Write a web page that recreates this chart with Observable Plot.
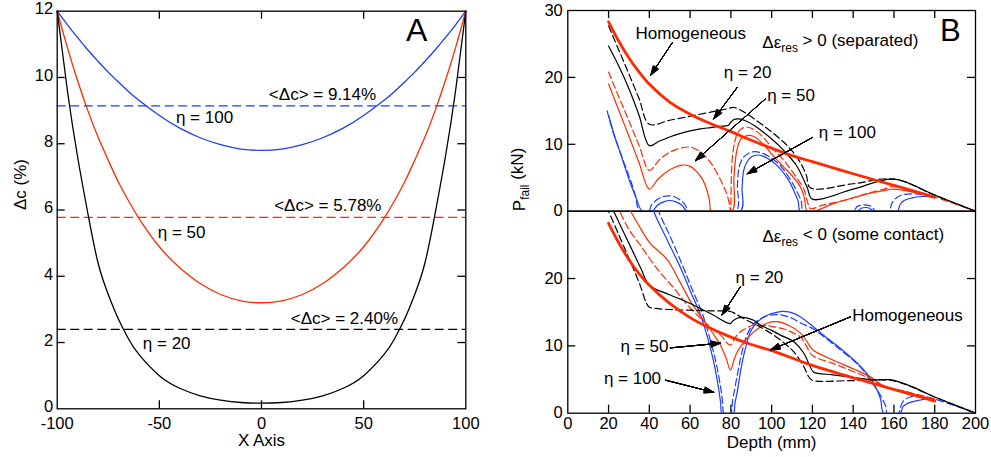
<!DOCTYPE html>
<html><head><meta charset="utf-8">
<script src="https://cdn.jsdelivr.net/npm/d3@7"></script>
<script src="https://cdn.jsdelivr.net/npm/@observablehq/plot@0.6"></script>
<style>
body{margin:0;background:#fff;}
#fig{position:relative;width:991px;height:457px;background:#fff;}
#fig svg{position:absolute;left:0;top:0;}
</style></head>
<body><div id="fig"></div>
<script>
// ---------------- Panel A data ----------------
const aX      = [-100,-95,-90,-85,-80,-75,-70,-65,-60,-50,-40,-30,-20,-10,0,10,20,30,40,50,60,65,70,75,80,85,90,95,100];
const aEta20  = [12,9.6,7.6,5.9,4.4,3.45,2.7,2.1,1.64,1.0,0.62,0.39,0.26,0.19,0.17,0.19,0.26,0.39,0.62,1.0,1.64,2.1,2.7,3.45,4.4,5.9,7.6,9.6,12];
const aEta50  = [12,10.9,9.9,9.0,8.2,7.5,6.84,6.27,5.75,4.89,4.26,3.78,3.45,3.26,3.2,3.26,3.45,3.78,4.26,4.89,5.75,6.27,6.84,7.5,8.2,9.0,9.9,10.9,12];
const aEta100 = [12,11.59,11.2,10.83,10.49,10.16,9.86,9.57,9.31,8.85,8.47,8.18,7.97,7.84,7.8,7.84,7.97,8.18,8.47,8.85,9.31,9.57,9.86,10.16,10.49,10.83,11.2,11.59,12];
const aMeans  = [9.14, 5.78, 2.40];
const aMeanColors = ["blue","red","black"];
const xTicksA = [-100,-50,0,50,100];
const yTicksA = [0,2,4,6,8,10,12];
const aLabels = [
  {x:3.6,  y:9.47, t:"<Δc> = 9.14%"},
  {x:-41.9,y:8.79, t:"η = 100"},
  {x:6.2,  y:6.14, t:"<Δc> = 5.78%"},
  {x:-50.8,y:5.32, t:"η = 50"},
  {x:14.3, y:2.71, t:"<Δc> = 2.40%"},
  {x:-58.1,y:1.97, t:"η = 20"}
];

// ---------------- Panel B data (top: Δε_res > 0) ----------------
const homogTop = [[20,28.3],[25,25.4],[30,22.9],[35,20.8],[40,19.0],[50,16.3],[60,14.5],[70,13.1],[80,11.9],[90,10.6],[100,9.4],[110,8.3],[120,7.4],[140,5.6],[160,3.85],[180,2.1]];
const eta20SolidTop = [[20,24.7],[25,21.7],[30,18.3],[35,14.3],[40,9.8],[45,10.5],[50,11.1],[55,11.6],[60,12.0],[65,12.3],[70,12.5],[75,12.7],[78.5,12.8],[80,13.3],[81.5,13.7],[84,13.8],[88,13.4],[92,12.7],[96,11.8],[100,10.8],[104,9.7],[108,8.4],[112,6.9],[115,5.2],[117.5,3.5],[120,1.8],[140,3.3],[160,4.8],[180,2.4],[200,0]];
const eta20DashTop = [[20,27.7],[25,24.1],[30,20.5],[35,16.8],[40,13.0],[50,13.6],[60,14.2],[70,14.8],[78,15.3],[81.5,15.5],[86,14.9],[91,13.9],[96,12.8],[101,11.6],[106,10.3],[110,9.0],[114,7.3],[117,5.4],[119,3.5],[140,4.1],[160,4.8],[180,2.4],[200,0]];
const eta50SolidTop = [[20,19.0],[25,15.1],[30,11.2],[35,7.2],[40,3.3],[44,4.7],[48,5.8],[52,6.5],[56,6.9],[60,6.7],[63,6.0],[66,4.8],[68,3.4],[69.5,1.6],[70.5,0],[80.5,0],[81.5,5.0],[83,9.2],[85,10.8],[88,11.3],[91,11.2],[96,10.0],[101,8.2],[106,6.6],[110,5.3],[114,3.7],[116,2.1],[117.4,0],[121,0],[130,1.1],[140,2.0],[150,2.8],[157,3.2],[160,3.3],[170,2.8],[180,2.1]];
const eta50DashTop = [[20,20.8],[25,17.1],[30,13.5],[35,9.8],[40,6.1],[45,7.7],[50,8.8],[55,9.4],[58.6,9.6],[62,9.4],[66,8.6],[70,7.3],[73,5.8],[76,4.0],[78.2,2.4],[79.5,0.6],[79.8,0],[80.6,7.6],[82,10.5],[83.5,11.8],[86.3,12.5],[90,12.4],[95,11.3],[101,9.2],[106,7.6],[110,6.0],[113,4.7],[115.8,3.3],[117.5,1.5],[119,0.4],[125,0.9],[135.4,1.6],[145,2.5],[155,3.3],[160,3.7],[170,2.9],[180,2.1],[200,0]];
const eta100SolidTop = [[20,14.3],[23,11.2],[25.9,8.6],[28,6.6],[30.8,4.1],[33.5,2.0],[36.5,0],[41.4,0],[44,0.9],[47,1.4],[50,1.6],[53,1.4],[56,0.9],[58.6,0],[84.7,0],[85.5,3.5],[86.3,6.1],[88,7.4],[90,8.1],[93,8.4],[96,8.2],[100,7.5],[104,6.4],[108,4.8],[111,3.0],[113,1.5],[114.2,0],[142,0],[144,0.45],[146,0.55],[148,0.45],[150,0],[161.6,0],[163,1.0],[165,1.6],[169,2.0],[173,2.2],[176,2.2],[180,2.0]];
const eta100DashTop = [[19.3,15.0],[22,12.0],[25.1,9.3],[28,6.9],[30.8,4.6],[33,2.5],[35.3,0],[39.7,0],[41,0.9],[44,1.8],[47,2.2],[49.5,2.3],[52,2.2],[55,1.7],[57.5,1.0],[59.4,0],[82.5,0],[83.2,4.0],[84,6.5],[86,8.0],[89,8.7],[92,8.9],[96,8.6],[100,7.9],[104,6.9],[108,5.3],[112,3.2],[114.5,1.5],[115.8,0],[140,0],[142,0.7],[145.5,0.95],[149,0.7],[151,0],[157.5,0],[159,1.2],[161.6,2.1],[165,2.5],[169.7,2.6],[175,2.4],[180,2.1]];

// ---------------- Panel B data (bottom: Δε_res < 0) ----------------
const homogBot = [[20,28.2],[25,25.3],[30,22.8],[35,20.7],[40,19.0],[50,16.3],[60,14.2],[70,12.6],[80,11.3],[90,10.2],[100,9.3],[110,8.2],[120,7.1],[135,5.7],[150,4.4],[165,3.1],[180,1.8]];
const eta20SolidBot = [[20,31.6],[22.5,30.0],[27.5,26.8],[32.4,23.7],[36,21.4],[40,19.0],[50,17.6],[60,16.3],[70,14.8],[79.8,13.3],[80.6,13.6],[83.1,14.1],[87,14.2],[91.2,13.8],[94.4,13.1],[100,12.3],[104.3,11.6],[110.9,10.6],[115.8,8.9],[118.9,6.9],[120.6,6.1],[130,5.7],[140,5.3],[148,5.0],[155,4.95],[158,5.0],[162,4.7],[170,3.8],[180,2.4],[190,1.2],[200,0]];
const eta20DashBot = [[19,30.7],[20,30.0],[25,26.5],[30,23.0],[35,19.4],[39.7,15.8],[42,15.6],[50,15.4],[60,15.3],[70,15.2],[79.8,15.1],[82,14.8],[86,14.1],[91.2,13.3],[94.4,12.8],[100,11.8],[105,10.7],[110.9,9.1],[115.8,6.9],[118,5.5],[119.9,4.9],[140,4.85],[159.9,4.8],[180,2.4],[200,0]];
const eta50SolidBot = [[28,31.4],[30.8,30.0],[35,27.8],[40.2,25.3],[44,24.2],[48.8,22.8],[55,19.5],[60.2,16.6],[64,14.9],[68.4,13.1],[72,11.5],[74.9,10.1],[77.5,8.3],[79.8,6.4],[81.5,7.9],[83.1,9.1],[85.5,10.2],[88,11.1],[91,12.0],[94.5,12.8],[98,13.4],[102.7,13.6],[108,13.1],[114.2,11.9],[117,10.8],[118.9,9.9],[120.6,9.3],[130,7.9],[140,6.6],[148.5,5.4],[152,4.6],[156,3.9],[159.9,3.5],[165,3.2],[170,2.8],[175,2.4],[180,2.1]];
const eta50DashBot = [[24,31.2],[25.5,30.0],[30,27.3],[35,25.2],[38.9,23.5],[45,21.0],[52,18.6],[58,16.3],[65.1,14.1],[70,12.8],[74.9,11.6],[79.8,10.1],[82,11.2],[84.7,12.1],[88,12.7],[91.2,13.1],[94.4,13.1],[100,12.9],[106,12.5],[110,12.0],[114.2,11.3],[117,10.0],[119.9,8.6],[130,7.4],[140,6.2],[148.5,5.1],[153,4.3],[157,3.8],[159.9,3.6],[165,3.3],[170,2.9],[175,2.5],[180,2.1]];
const eta100SolidBot = [[41,32.0],[42.2,30.0],[48,26.2],[55.3,21.6],[60,18.2],[65.1,14.6],[68.5,11.3],[71.6,7.6],[73.8,4.0],[75,1.5],[75.7,0],[81.2,0],[82,1.5],[83.1,3.1],[84.5,5.8],[86.3,8.6],[88,10.6],[89.6,12.1],[92.5,13.4],[96.2,14.3],[100,14.8],[104.3,15.1],[109,15.0],[114.2,14.3],[120.6,12.8],[125,11.7],[130.5,10.4],[135,9.3],[140.3,7.9],[143.5,7.0],[146.7,5.9],[149.5,4.7],[151.8,3.4],[153.5,2.0],[155,0],[163,0],[164.5,1.0],[168,1.6],[172,1.9],[176.3,2.1],[180,2.0]];
const eta100DashBot = [[43.5,32.0],[44.6,30.0],[50,26.4],[56.5,21.8],[61,18.4],[66,14.8],[69.5,11.3],[72.8,7.4],[75,3.8],[76,1.5],[76.6,0],[79.9,0],[80.8,1.8],[82,3.8],[84,7.0],[86,9.8],[88,11.7],[91,13.2],[95,14.1],[100,14.6],[104.3,14.6],[110,14.1],[114.2,13.4],[120.6,12.5],[125,11.5],[130.5,10.2],[135,9.1],[140.3,7.8],[144,6.7],[147,5.5],[150,4.2],[152.5,3.1],[154.5,2.0],[156,1.0],[156.7,0],[162.1,0],[163.3,1.0],[164.8,1.9],[168,2.4],[171.4,2.6],[176,2.4],[180,2.1],[190,1.1],[200,0]];

const xTicksB = [0,20,40,60,80,100,120,140,160,180,200];
const yTicksBTop = [0,10,20,30];
const yTicksBBot = [0,10,20];

const bTopLabels = [
  {x:33.2, y:26.6, t:"Homogeneous"},
  {x:95.4, y:25.2, t:"Δε_{res} > 0 (separated)"},
  {x:76.5, y:20.7, t:"η = 20"},
  {x:97.8, y:17.3, t:"η = 50"},
  {x:123.1,y:11.8, t:"η = 100"}
];
const bTopArrows = [
  {x1:51.3, y1:25.2, x2:40.6, y2:20.3},
  {x1:83.1, y1:18.5, x2:71.6, y2:13.8},
  {x1:97.0, y1:16.8, x2:62.6, y2:7.55},
  {x1:119.9,y1:11.0, x2:88.0, y2:5.6}
];
const bBotLabels = [
  {x:95.5, y:26.2, t:"Δε_{res} < 0 (some contact)"},
  {x:82.3, y:20.2, t:"η = 20"},
  {x:25.9, y:9.9,  t:"η = 50"},
  {x:17.7, y:5.2,  t:"η = 100"},
  {x:139.5,y:14.5, t:"Homogeneous"}
];
const bBotArrows = [
  {x1:84.7, y1:18.8, x2:75.7, y2:14.6},
  {x1:50.3, y1:9.7,  x2:74.9, y2:10.4},
  {x1:48.0, y1:4.9,  x2:71.6, y2:3.1},
  {x1:138.6,y1:14.3, x2:99.4, y2:9.4}
];

// ---------------- styling / layout ----------------
const W = 991, H = 457;
const COLORS = {black:"#000000", red:"#ff2a00", blue:"#1a3cff"};
const FONT = "'Liberation Sans', Arial, Helvetica, sans-serif";
const STYLE = `background:transparent;overflow:visible;font-family:${FONT};font-size:17px;color:#000;`;
const TICKFONT = 16.5;
const boxA = {left:56.7, right:465.3, top:10.7, bottom:408.3};
const boxBT = {left:567.3, right:975, top:10, bottom:210.7};
const boxBB = {left:567.3, right:975, top:210.7, bottom:412.7};
const TICK = 8, AXW = 1.3;

function inner(t){ return t.slice(1, -1); }
function tickMarks(box, xT, yT, sides){
  const fw = box.right - box.left, fh = box.bottom - box.top, m = [];
  const o = {stroke:"black", strokeWidth:AXW};
  if (sides.includes("b")) m.push(Plot.tickX(xT, {x:d=>d, insetTop: fh - TICK, ...o}));
  if (sides.includes("t")) m.push(Plot.tickX(xT, {x:d=>d, insetBottom: fh - TICK, ...o}));
  if (sides.includes("l")) m.push(Plot.tickY(yT, {y:d=>d, insetRight: fw - TICK, ...o}));
  if (sides.includes("r")) m.push(Plot.tickY(yT, {y:d=>d, insetLeft: fw - TICK, ...o}));
  return m;
}
function curveMark(data, color, dashed, width){
  return Plot.line(data, {x:d=>d[0], y:d=>d[1], stroke:COLORS[color], strokeWidth: width || 1.2,
    strokeDasharray: dashed ? "7,3.5" : null, curve:"catmull-rom", clip:true});
}
const HEAD_ANGLES = [38, 31, 24, 17, 10, 4];
function arrowMarks(data){
  return HEAD_ANGLES.map(a => Plot.arrow(data, {x1:"x1", y1:"y1", x2:"x2", y2:"y2",
    stroke:"black", strokeWidth:1, headLength:15, headAngle:a}));
}
function mkPlot(box, xdom, ydom, marks){
  return Plot.plot({
    width: W, height: H,
    marginLeft: box.left, marginRight: W - box.right, marginTop: box.top, marginBottom: H - box.bottom,
    x: {domain: xdom, axis: null}, y: {domain: ydom, axis: null},
    style: STYLE, marks
  });
}

// ---------------- Panel A ----------------
const plotA = mkPlot(boxA, [-100,100], [0,12], [
  Plot.ruleY(aMeans, {y:d=>d, stroke:(d,i)=>COLORS[aMeanColors[i]], strokeWidth:1.2, strokeDasharray:"9,4.5"}),
  Plot.line(aX, {x:d=>d, y:(d,i)=>aEta100[i], stroke:COLORS.blue, strokeWidth:1.3, curve:"natural"}),
  Plot.line(aX, {x:d=>d, y:(d,i)=>aEta50[i], stroke:COLORS.red, strokeWidth:1.3, curve:"natural"}),
  Plot.line(aX, {x:d=>d, y:(d,i)=>aEta20[i], stroke:COLORS.black, strokeWidth:1.3, curve:"natural"}),
  Plot.frame({stroke:"black", strokeWidth:AXW}),
  ...tickMarks(boxA, inner(xTicksA), inner(yTicksA), "btlr"),
  Plot.text(xTicksA, {x:d=>d, text:d=>String(d), frameAnchor:"bottom", lineAnchor:"top", dy:8, fontSize:TICKFONT}),
  Plot.text(yTicksA, {y:d=>d, text:d=>String(d), frameAnchor:"left", textAnchor:"end", dx:-4, dy:-2, fontSize:TICKFONT}),
  Plot.text(["X Axis"], {text:d=>d, frameAnchor:"bottom", lineAnchor:"top", dy:25}),
  Plot.text(["Δc (%)"], {text:d=>d, frameAnchor:"left", rotate:-90, dx:-37}),
  Plot.text(aLabels, {x:"x", y:"y", text:"t", textAnchor:"start"}),
  Plot.text(["A"], {text:d=>d, x:()=>76, y:()=>11.42, fontSize:32})
]);

// ---------------- Panel B top ----------------
const plotBT = mkPlot(boxBT, [0,200], [0,30], [
  Plot.frame({stroke:"black", strokeWidth:AXW}),
  ...tickMarks(boxBT, inner(xTicksB), [10,20], "tlr"),
  curveMark(eta100DashTop, "blue", true),
  curveMark(eta100SolidTop, "blue", false),
  curveMark(eta50DashTop, "red", true),
  curveMark(eta50SolidTop, "red", false),
  curveMark(eta20DashTop, "black", true),
  curveMark(eta20SolidTop, "black", false),
  curveMark(homogTop, "red", false, 2.8),
  Plot.text(yTicksBTop, {y:d=>d, text:d=>String(d), frameAnchor:"left", textAnchor:"end", dx:-5, fontSize:TICKFONT}),
  Plot.text(["P_{fail} (kN)"], {text:d=>d, frameAnchor:"bottom-left", rotate:-90, dx:-43}),
  Plot.text(bTopLabels, {x:"x", y:"y", text:"t", textAnchor:"start"}),
  ...arrowMarks(bTopArrows),
  Plot.text(["B"], {text:d=>d, x:()=>187.7, y:()=>26.86, fontSize:31})
]);

// ---------------- Panel B bottom ----------------
const plotBB = mkPlot(boxBB, [0,200], [0,30], [
  Plot.frame({stroke:"black", strokeWidth:AXW}),
  ...tickMarks(boxBB, inner(xTicksB), [10,20], "blr"),
  curveMark(eta100DashBot, "blue", true),
  curveMark(eta100SolidBot, "blue", false),
  curveMark(eta50DashBot, "red", true),
  curveMark(eta50SolidBot, "red", false),
  curveMark(eta20DashBot, "black", true),
  curveMark(eta20SolidBot, "black", false),
  curveMark(homogBot, "red", false, 2.8),
  Plot.text(xTicksB, {x:d=>d, text:d=>String(d), frameAnchor:"bottom", lineAnchor:"top", dy:4.5, fontSize:TICKFONT}),
  Plot.text(yTicksBBot, {y:d=>d, text:d=>String(d), frameAnchor:"left", textAnchor:"end", dx:-5, fontSize:TICKFONT}),
  Plot.text(["Depth (mm)"], {text:d=>d, frameAnchor:"bottom", lineAnchor:"top", dy:22.5}),
  Plot.text(bBotLabels, {x:"x", y:"y", text:"t", textAnchor:"start"}),
  ...arrowMarks(bBotArrows)
]);

const fig = document.getElementById("fig");
[plotA, plotBT, plotBB].forEach(p => fig.appendChild(p));

// turn "_{...}" into real subscripts
d3.select(fig).selectAll("text").each(function(){
  const s = this.textContent;
  const m = s.match(/^(.*)_\{([^}]*)\}(.*)$/);
  if (!m) return;
  const t = d3.select(this);
  t.text(null);
  t.append("tspan").text(m[1]);
  t.append("tspan").attr("font-size", "12px").attr("dy", "0.35em").text(m[2]);
  t.append("tspan").attr("dy", "-0.35em").text(m[3]);
});
</script>
</body></html>
